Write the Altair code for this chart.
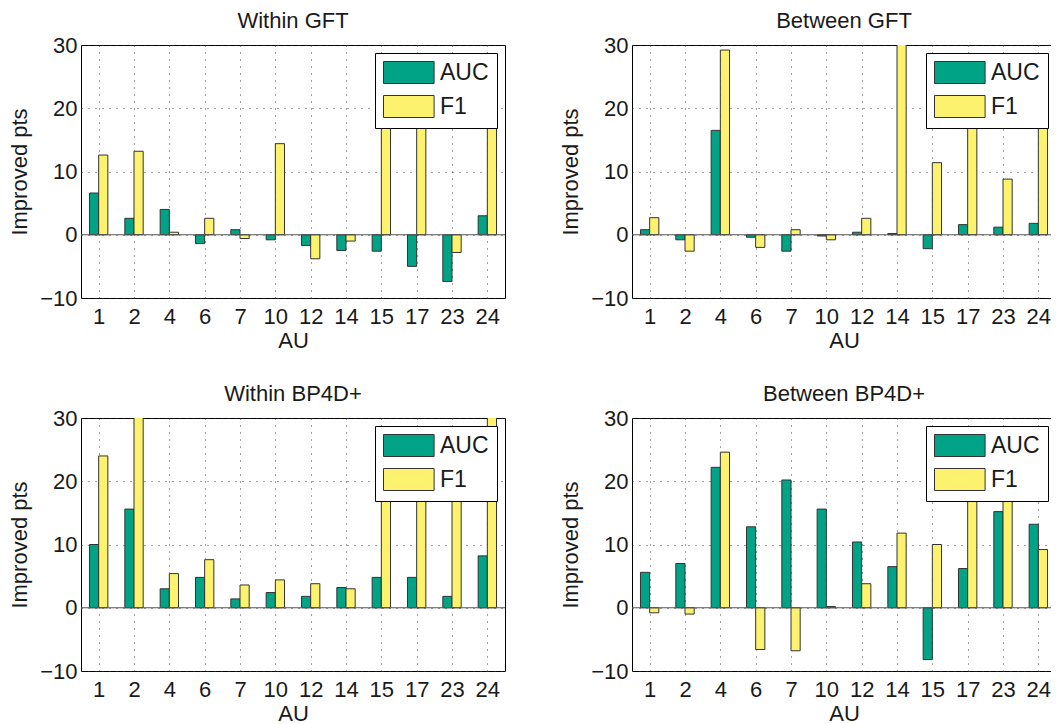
import json
import altair as alt
import pandas as pd

au_labels = ["1", "2", "4", "6", "7", "10", "12", "14", "15", "17", "23", "24"]
metrics = ["AUC", "F1"]
metric_colors = ["#00A386", "#FCF26E"]
panel_titles = ["Within GFT", "Between GFT", "Within BP4D+", "Between BP4D+"]
y_ticks = [-10, 0, 10, 20, 30]

within_gft_auc = [6.6, 2.6, 4.0, -1.4, 0.8, -0.8, -1.7, -2.5, -2.6, -5.0, -7.4, 3.0]
within_gft_f1 = [12.6, 13.2, 0.4, 2.6, -0.6, 14.4, -3.8, -1.0, 24.0, 17.6, -2.8, 24.0]
between_gft_auc = [0.8, -0.8, 16.5, -0.4, -2.6, -0.2, 0.4, 0.2, -2.2, 1.6, 1.2, 1.8]
between_gft_f1 = [2.7, -2.6, 29.2, -2.0, 0.8, -0.8, 2.6, 34.0, 11.4, 17.6, 8.8, 28.6]
within_bp4d_auc = [10.0, 15.6, 3.0, 4.8, 1.4, 2.4, 1.8, 3.2, 4.8, 4.8, 1.8, 8.2]
within_bp4d_f1 = [24.0, 33.0, 5.4, 7.6, 3.6, 4.4, 3.8, 3.0, 24.0, 24.0, 16.8, 32.0]
between_bp4d_auc = [5.6, 7.0, 22.2, 12.8, 20.2, 15.6, 10.4, 6.5, -8.2, 6.2, 15.2, 13.2]
between_bp4d_f1 = [-0.8, -1.0, 24.6, -6.6, -6.8, 0.2, 3.8, 11.8, 10.0, 24.0, 24.0, 9.2]

PANEL_W = 424
PANEL_H = 253
TEXT = "#1a1a1a"
FONT = "Liberation Sans"

label_expr = json.dumps(au_labels) + "[datum.value - 1]"


def panel(title, auc, f1):
    n = len(au_labels)
    df = pd.DataFrame({
        "AU": au_labels * 2,
        "pos": list(range(1, n + 1)) * 2,
        "metric": [metrics[0]] * n + [metrics[1]] * n,
        "value": auc + f1,
    })
    xscale = alt.Scale(domain=[0.5, n + 0.5], nice=False, zero=False)
    yscale = alt.Scale(domain=[-10, 30], nice=False, zero=False)
    bars = alt.Chart(df).mark_bar(clip=True, stroke="#333333", strokeWidth=1).transform_calculate(
        x0="datum.metric == 'AUC' ? datum.pos - 0.26 : datum.pos",
        x1="datum.metric == 'AUC' ? datum.pos : datum.pos + 0.26",
    ).encode(
        x=alt.X("x0:Q", scale=xscale,
                axis=alt.Axis(title="AU", values=list(range(1, n + 1)), labelExpr=label_expr,
                              labelFlush=False, labelOverlap=False, labelPadding=8,
                              titlePadding=3)),
        x2="x1:Q",
        y=alt.Y("value:Q", scale=yscale, stack=None,
                axis=alt.Axis(title="Improved pts", values=y_ticks, labelPadding=4,
                              titlePadding=8, labelFlush=False, labelOverlap=False)),
        y2=alt.datum(0),
        color=alt.Color("metric:N", scale=alt.Scale(domain=metrics, range=metric_colors),
                        legend=alt.Legend(title=None, orient="top-right")),
    )
    base = alt.Chart(pd.DataFrame({"v": [0]})).mark_rule(color="#555555", strokeWidth=1).encode(
        y=alt.Y("v:Q", scale=yscale)
    )
    return alt.layer(bars, base).properties(
        width=PANEL_W, height=PANEL_H,
        title=alt.TitleParams(title, anchor="middle"),
    )


p1 = panel(panel_titles[0], within_gft_auc, within_gft_f1)
p2 = panel(panel_titles[1], between_gft_auc, between_gft_f1)
p3 = panel(panel_titles[2], within_bp4d_auc, within_bp4d_f1)
p4 = panel(panel_titles[3], between_bp4d_auc, between_bp4d_f1)

chart = alt.vconcat(
    alt.hconcat(p1, p2, spacing=53).resolve_scale(color="independent"),
    alt.hconcat(p3, p4, spacing=53).resolve_scale(color="independent"),
    spacing=30,
).resolve_scale(color="independent").properties(
    padding={"left": 0, "top": 1, "right": -6, "bottom": 0},
    background="white",
).configure(font=FONT).configure_view(
    stroke="#000000", strokeWidth=1
).configure_axis(
    labelFont=FONT, titleFont=FONT, labelFontSize=22, titleFontSize=22,
    titleFontWeight="normal", labelColor=TEXT, titleColor=TEXT,
    grid=True, gridDash=[1, 6], gridColor="#333333", gridOpacity=0.9,
    ticks=False, domain=False,
).configure_title(
    font=FONT, fontSize=22, fontWeight="normal", color=TEXT, offset=1,
    baseline="alphabetic",
).configure_legend(
    orient="top-right", offset=8, padding=8, fillColor="white", strokeColor="#000000",
    symbolType="M-1,-1H3.6V1H-1Z", symbolSize=484, symbolStrokeColor="#333333",
    symbolStrokeWidth=1, symbolOpacity=1, labelFont=FONT, labelFontSize=23,
    labelColor=TEXT, labelOffset=34, rowPadding=7,
)

chart.save("out.html", embed_options={"renderer": "svg", "actions": False})
